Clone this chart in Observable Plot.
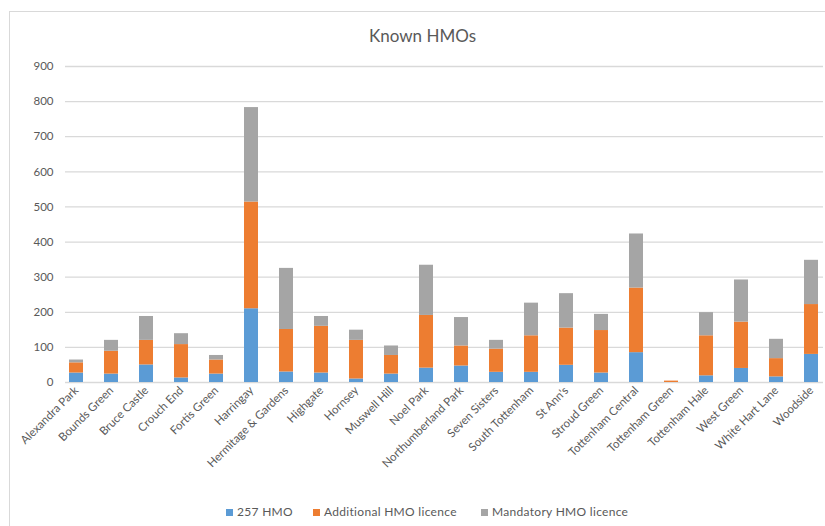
<!DOCTYPE html>
<html>
<head>
<meta charset="utf-8">
<script src="https://cdn.jsdelivr.net/npm/d3@7"></script>
<script src="https://cdn.jsdelivr.net/npm/@observablehq/plot@0.6"></script>
<style>
  html, body { margin: 0; padding: 0; background: #fff; }
  #wrap { position: relative; width: 825px; height: 526px; overflow: hidden; font-family: Lato, "Open Sans", sans-serif; }
  #frame { position: absolute; left: 9px; top: 11px; width: 830px; height: 530px; border: 1px solid #d9d9d9; box-sizing: border-box; }
  #title { position: absolute; left: 0; top: 25px; width: 845px; text-align: center; font-size: 17px; color: #595959; }
  #chart { position: absolute; left: 0; top: 0; }
  .leg { position: absolute; top: 504px; font-size: 12px; letter-spacing: 0.3px; color: #595959; white-space: nowrap; }
  .leg span.sw { display: inline-block; width: 7px; height: 7px; margin-right: 4px; vertical-align: 0px; }
</style>
</head>
<body>
<div id="wrap">
  <div id="frame"></div>
  <div id="title">Known HMOs</div>
  <div id="chart"></div>
  <div id="legend"></div>
</div>
<script>
const categories = ["Alexandra Park","Bounds Green","Bruce Castle","Crouch End","Fortis Green","Harringay","Hermitage & Gardens","Highgate","Hornsey","Muswell Hill","Noel Park","Northumberland Park","Seven Sisters","South Tottenham","St Ann's","Stroud Green","Tottenham Central","Tottenham Green","Tottenham Hale","West Green","White Hart Lane","Woodside"];
const hmo257     = [27, 24, 50, 13, 24, 210, 30, 27, 10, 24, 41, 47, 29, 29, 49, 27, 85, 0, 19, 40, 16, 80];
const additional = [29, 65, 70, 95, 40, 304, 121, 133, 110, 53, 150, 57, 66, 104, 106, 121, 184, 4, 114, 132, 52, 142];
const mandatory  = [8, 31, 68, 31, 13, 269, 174, 28, 29, 27, 143, 81, 25, 93, 98, 46, 154, 0, 66, 120, 55, 126];
const seriesNames = ["257 HMO", "Additional HMO licence", "Mandatory HMO licence"];
const seriesColors = ["#5B9BD5", "#ED7D31", "#A5A5A5"];
const yTicks = [0, 100, 200, 300, 400, 500, 600, 700, 800, 900];

const seriesValues = [hmo257, additional, mandatory];
const rows = [];
seriesNames.forEach((s, si) => {
  categories.forEach((c, ci) => rows.push({ward: c, series: s, value: seriesValues[si][ci]}));
});

const plot = Plot.plot({
  width: 825,
  height: 490,
  marginTop: 66,
  marginBottom: 108,
  marginLeft: 65,
  marginRight: 2,
  style: { fontFamily: "Lato, 'Open Sans', sans-serif", fontSize: "11.5px", color: "#595959", background: "transparent" },
  x: { domain: categories, paddingInner: 0.59, paddingOuter: 0.05, label: null, tickSize: 0, tickPadding: 6, tickRotate: -45 },
  y: { domain: [0, 900], ticks: yTicks, label: null, tickSize: 0, tickPadding: 12 },
  color: { domain: seriesNames, range: seriesColors },
  marks: [
    Plot.ruleY(yTicks, { stroke: "#d9d9d9", strokeWidth: 1.3 }),
    Plot.barY(rows, Plot.stackY({ order: seriesNames }, { x: "ward", y: "value", fill: "series" }))
  ]
});
document.getElementById("chart").appendChild(plot);

const legendPos = [226, 313, 481];
const legend = document.getElementById("legend");
seriesNames.forEach((s, i) => {
  const d = document.createElement("div");
  d.className = "leg";
  d.style.left = legendPos[i] + "px";
  d.innerHTML = `<span class="sw" style="background:${seriesColors[i]}"></span>${s}`;
  legend.appendChild(d);
});
</script>
</body>
</html>
